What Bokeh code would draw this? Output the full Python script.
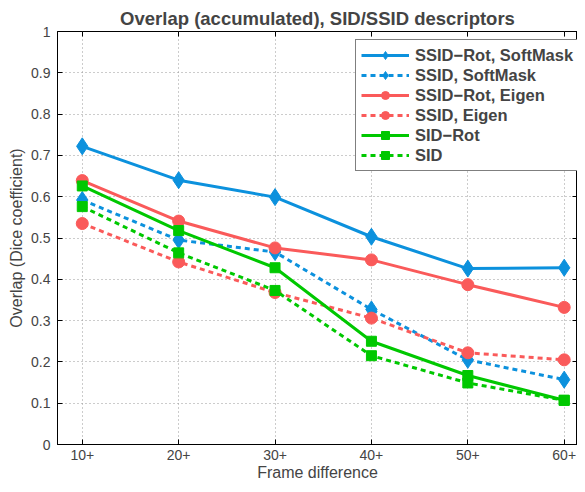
from bokeh.plotting import figure
from bokeh.models import Range1d, FixedTicker, LinearAxis, CustomJSTickFormatter, Legend, LegendItem
from bokeh.embed import file_html
from bokeh.resources import INLINE

x_labels = ["10+", "20+", "30+", "40+", "50+", "60+"]
x_pos = [1, 2, 3, 4, 5, 6]

ssid_rot_softmask = [0.722, 0.640, 0.599, 0.503, 0.426, 0.428]
ssid_softmask = [0.592, 0.495, 0.466, 0.327, 0.205, 0.157]
ssid_rot_eigen = [0.639, 0.541, 0.476, 0.447, 0.387, 0.332]
ssid_eigen = [0.535, 0.442, 0.368, 0.306, 0.222, 0.205]
sid_rot = [0.626, 0.518, 0.428, 0.250, 0.167, 0.107]
sid = [0.576, 0.464, 0.373, 0.215, 0.149, 0.107]

y_ticks = [0, 0.1, 0.2, 0.3, 0.4, 0.5, 0.6, 0.7, 0.8, 0.9, 1.0]

BLUE = "#0c91dd"
RED = "#fa5a5a"
GREEN = "#00c800"
FONT = "Liberation Sans"

p = figure(width=577, height=484, output_backend="svg", toolbar_location=None,
           x_range=Range1d(0.743, 6.138), y_range=Range1d(0, 1),
           min_border_left=57, min_border_right=0, min_border_top=31, min_border_bottom=40,
           title="Overlap (accumulated), SID/SSID descriptors")
p.title.text_font = FONT
p.title.text_font_size = "18.5px"
p.title.text_font_style = "bold"
p.title.align = "center"
p.title.offset = 0
p.title.standoff = 5
p.outline_line_color = "black"
p.outline_line_width = 1

p.xaxis.ticker = FixedTicker(ticks=x_pos)
p.xaxis.major_label_overrides = {k: v for k, v in zip(x_pos, x_labels)}
p.yaxis.ticker = FixedTicker(ticks=y_ticks)
p.yaxis.formatter = CustomJSTickFormatter(code="return String(Math.round(tick*10)/10);")
p.xaxis.axis_label = "Frame difference"
p.yaxis.axis_label = "Overlap (Dice coefficient)"
for ax in [p.xaxis[0], p.yaxis[0]]:
    ax.axis_label_text_font = FONT
    ax.axis_label_text_font_size = "16px"
    ax.axis_label_text_font_style = "normal"
    ax.major_label_text_font = FONT
    ax.major_label_text_font_size = "14px"
    ax.major_tick_in = 5
    ax.major_tick_out = 0
    ax.minor_tick_line_color = None
    ax.axis_line_color = "black"
    ax.major_tick_line_color = "black"
p.xaxis.major_label_standoff = 5
p.xaxis.axis_label_standoff = 1
p.yaxis.major_label_standoff = 7
p.yaxis.axis_label_standoff = 3

for side, tick in [("right", FixedTicker(ticks=y_ticks)), ("above", FixedTicker(ticks=x_pos))]:
    ax = LinearAxis(ticker=tick)
    ax.major_label_text_font_size = "1px"
    ax.major_label_text_color = None
    ax.major_label_standoff = 0
    ax.major_tick_in = 5
    ax.major_tick_out = 0
    ax.minor_tick_line_color = None
    ax.axis_line_color = None
    ax.major_tick_line_color = "black"
    p.add_layout(ax, side)

p.grid.grid_line_color = "#999999"
p.grid.grid_line_dash = "1 3"
p.grid.grid_line_width = 1

items = []
def add(name, ys, color, marker, dash, msize):
    r1 = p.line(x_pos, ys, line_color=color, line_width=3, line_dash=dash)
    r2 = p.scatter(x_pos, ys, marker=marker, size=msize, fill_color=color, line_color=color)
    items.append(LegendItem(label=name, renderers=[r1, r2]))

add("SSID\u2212Rot, SoftMask", ssid_rot_softmask, BLUE, "diamond", "solid", 17)
add("SSID, SoftMask", ssid_softmask, BLUE, "diamond", "5 4", 17)
add("SSID\u2212Rot, Eigen", ssid_rot_eigen, RED, "circle", "solid", 12)
add("SSID, Eigen", ssid_eigen, RED, "circle", "5 4", 12)
add("SID\u2212Rot", sid_rot, GREEN, "square", "solid", 10)
add("SID", sid, GREEN, "square", "5 4", 10)

legend = Legend(items=items, location=(298, 273))
legend.label_text_font = FONT
legend.label_text_font_size = "16.5px"
legend.label_text_font_style = "bold"
legend.glyph_width = 48
legend.glyph_height = 20
legend.label_height = 20
legend.label_standoff = 6
legend.spacing = 0
legend.padding = 5
legend.margin = 0
legend.border_line_color = "black"
legend.border_line_width = 1
legend.background_fill_alpha = 1
p.add_layout(legend)

open("out.html", "w").write(file_html(p, INLINE))
